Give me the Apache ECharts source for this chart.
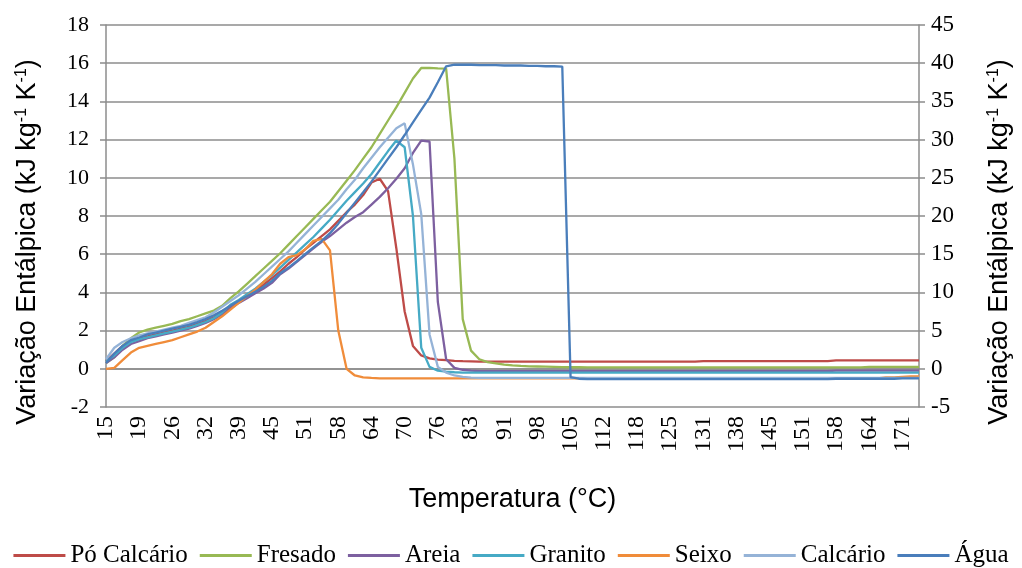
<!DOCTYPE html>
<html>
<head>
<meta charset="utf-8">
<script src="https://cdn.jsdelivr.net/npm/echarts@6/dist/echarts.min.js"></script>
<style>
html, body { margin: 0; padding: 0; background: #fff; }
#chart { width: 1022px; height: 568px; }
</style>
</head>
<body>
<div id="chart"></div>
<script>
// temperatura (°C) de cada leitura; rotulo mostrado a cada 4 leituras
var temperaturas = [
    15, 16, 17, 18, 19, 21, 23, 24, 26, 27, 29, 30, 32, 34, 35, 37,
    39, 40, 42, 43, 45, 46, 48, 49, 51, 53, 54, 56, 58, 59, 61, 62,
    64, 65, 67, 68, 70, 71, 73, 74, 76, 78, 79, 81, 83, 85, 87, 89,
    91, 93, 94, 96, 98, 100, 101, 103, 105, 107, 108, 110, 112, 113, 115, 116,
    118, 120, 121, 123, 125, 126, 128, 129, 131, 133, 134, 136, 138, 140, 141, 143,
    145, 146, 148, 149, 151, 153, 154, 156, 158, 159, 161, 162, 164, 165, 167, 168,
    171, 173, 175
];

// eixo esquerdo (kJ kg-1 K-1)
var poCalcario = [
    0.4, 0.8, 1.2, 1.45, 1.6, 1.7, 1.8, 1.9, 2.0, 2.1, 2.2, 2.35, 2.5, 2.7, 2.95, 3.2,
    3.5, 3.8, 4.1, 4.4, 4.75, 5.1, 5.5, 5.85, 6.25, 6.6, 6.95, 7.3, 7.75, 8.2, 8.6, 9.1,
    9.75, 9.95, 9.3, 6.3, 3.0, 1.2, 0.7, 0.55, 0.48, 0.45, 0.42, 0.4, 0.39, 0.38, 0.38, 0.38,
    0.38, 0.38, 0.38, 0.38, 0.38, 0.38, 0.38, 0.38, 0.38, 0.38, 0.38, 0.38, 0.38, 0.38, 0.38, 0.38,
    0.38, 0.38, 0.38, 0.38, 0.38, 0.38, 0.38, 0.38, 0.4, 0.4, 0.4, 0.4, 0.4, 0.4, 0.4, 0.4,
    0.4, 0.4, 0.4, 0.4, 0.4, 0.4, 0.4, 0.4, 0.44, 0.44, 0.44, 0.44, 0.44, 0.44, 0.44, 0.44,
    0.44, 0.44, 0.44
];
var fresado = [
    0.3, 0.6, 1.2, 1.6, 1.9, 2.05, 2.15, 2.25, 2.35, 2.5, 2.6, 2.75, 2.9, 3.05, 3.3, 3.7,
    4.05, 4.45, 4.85, 5.25, 5.65, 6.05, 6.5, 6.95, 7.4, 7.85, 8.3, 8.75, 9.3, 9.85, 10.4, 11.0,
    11.6, 12.3, 13.0, 13.7, 14.45, 15.2, 15.75, 15.75, 15.73, 15.72, 11.0, 2.6, 0.95, 0.5, 0.35, 0.28,
    0.22, 0.18, 0.15, 0.13, 0.12, 0.11, 0.1, 0.09, 0.08, 0.08, 0.07, 0.07, 0.07, 0.07, 0.07, 0.07,
    0.07, 0.07, 0.07, 0.07, 0.07, 0.07, 0.07, 0.07, 0.07, 0.07, 0.07, 0.07, 0.07, 0.07, 0.07, 0.07,
    0.07, 0.07, 0.07, 0.07, 0.07, 0.07, 0.07, 0.07, 0.07, 0.07, 0.07, 0.07, 0.1, 0.1, 0.1, 0.1,
    0.1, 0.1, 0.1
];
var areia = [
    0.3, 0.6, 1.0, 1.3, 1.45, 1.6, 1.7, 1.8, 1.9, 2.0, 2.1, 2.25, 2.4, 2.6, 2.85, 3.15,
    3.45, 3.7, 3.95, 4.2, 4.5, 4.95, 5.25, 5.6, 5.95, 6.3, 6.65, 6.95, 7.3, 7.65, 7.95, 8.2,
    8.6, 9.0, 9.45, 9.95, 10.5, 11.3, 11.95, 11.9, 3.5, 0.5, 0.05, -0.05, -0.1, -0.12, -0.12, -0.12,
    -0.12, -0.12, -0.12, -0.12, -0.12, -0.12, -0.12, -0.12, -0.12, -0.12, -0.12, -0.12, -0.12, -0.12, -0.12, -0.12,
    -0.12, -0.12, -0.12, -0.12, -0.12, -0.12, -0.12, -0.12, -0.12, -0.12, -0.12, -0.12, -0.12, -0.12, -0.12, -0.12,
    -0.12, -0.12, -0.12, -0.12, -0.12, -0.12, -0.12, -0.12, -0.1, -0.1, -0.1, -0.1, -0.1, -0.1, -0.1, -0.1,
    -0.1, -0.1, -0.1
];
var granito = [
    0.4, 0.7, 1.1, 1.4, 1.55, 1.65, 1.75, 1.85, 1.95, 2.05, 2.15, 2.3, 2.45, 2.65, 2.95, 3.35,
    3.6, 3.9, 4.2, 4.55, 4.9, 5.3, 5.7, 6.1, 6.5, 6.9, 7.35, 7.8, 8.3, 8.8, 9.25, 9.7,
    10.2, 10.8, 11.4, 11.95, 11.6, 8.0, 1.1, 0.1, -0.1, -0.15, -0.18, -0.2, -0.2, -0.2, -0.2, -0.2,
    -0.2, -0.2, -0.2, -0.2, -0.2, -0.2, -0.2, -0.2, -0.2, -0.2, -0.2, -0.2, -0.2, -0.2, -0.2, -0.2,
    -0.2, -0.2, -0.2, -0.2, -0.2, -0.2, -0.2, -0.2, -0.2, -0.2, -0.2, -0.2, -0.2, -0.2, -0.2, -0.2,
    -0.2, -0.2, -0.2, -0.2, -0.2, -0.2, -0.2, -0.2, -0.2, -0.2, -0.2, -0.2, -0.2, -0.2, -0.2, -0.2,
    -0.2, -0.2, -0.2
];
var seixo = [
    0.0, 0.05, 0.45, 0.85, 1.1, 1.2, 1.3, 1.4, 1.5, 1.65, 1.8, 1.95, 2.15, 2.45, 2.75, 3.1,
    3.45, 3.8, 4.15, 4.55, 4.95, 5.5, 5.85, 5.95, 6.25, 6.7, 6.8, 6.2, 2.0, 0.0, -0.35, -0.45,
    -0.48, -0.5, -0.5, -0.5, -0.5, -0.5, -0.5, -0.5, -0.5, -0.5, -0.5, -0.5, -0.5, -0.5, -0.5, -0.5,
    -0.5, -0.5, -0.5, -0.5, -0.5, -0.5, -0.5, -0.5, -0.5, -0.5, -0.5, -0.5, -0.5, -0.5, -0.5, -0.5,
    -0.5, -0.5, -0.5, -0.5, -0.5, -0.5, -0.5, -0.5, -0.5, -0.5, -0.5, -0.5, -0.5, -0.5, -0.5, -0.5,
    -0.5, -0.5, -0.5, -0.5, -0.5, -0.5, -0.5, -0.5, -0.5, -0.5, -0.5, -0.5, -0.5, -0.5, -0.45, -0.45,
    -0.42, -0.4, -0.4
];
var calcario = [
    0.5, 1.1, 1.4, 1.6, 1.75, 1.85, 1.95, 2.05, 2.15, 2.25, 2.4, 2.55, 2.7, 2.95, 3.25, 3.55,
    3.85, 4.2, 4.55, 4.95, 5.35, 5.75, 6.15, 6.6, 7.05, 7.5, 7.95, 8.4, 8.85, 9.4, 9.9, 10.5,
    11.05, 11.6, 12.1, 12.6, 12.85, 10.7, 8.1, 1.8, 0.1, -0.2, -0.35, -0.42, -0.46, -0.48, -0.48, -0.48,
    -0.48, -0.48, -0.48, -0.48, -0.48, -0.48, -0.48, -0.48, -0.48, -0.48, -0.48, -0.48, -0.48, -0.48, -0.48, -0.48,
    -0.48, -0.48, -0.48, -0.48, -0.48, -0.48, -0.48, -0.48, -0.48, -0.48, -0.48, -0.48, -0.48, -0.48, -0.48, -0.48,
    -0.48, -0.48, -0.48, -0.48, -0.48, -0.48, -0.48, -0.48, -0.48, -0.48, -0.48, -0.48, -0.48, -0.48, -0.48, -0.48,
    -0.48, -0.48, -0.48
];
// eixo direito
var agua = [
    0.75, 2.0, 3.0, 3.75, 4.1, 4.5, 4.75, 5.0, 5.25, 5.5, 5.75, 6.1, 6.5, 7.0, 7.6, 8.25,
    8.9, 9.5, 10.1, 10.75, 11.5, 12.5, 13.25, 14.1, 15.0, 15.9, 16.75, 17.75, 19.0, 20.4, 21.75, 23.1,
    24.5, 26.0, 27.5, 29.0, 30.6, 32.25, 33.9, 35.5, 37.5, 39.6, 39.8, 39.8, 39.8, 39.75, 39.75, 39.75,
    39.7, 39.7, 39.7, 39.65, 39.65, 39.6, 39.6, 39.55, -1.1, -1.3, -1.35, -1.35, -1.35, -1.35, -1.35, -1.35,
    -1.35, -1.35, -1.35, -1.35, -1.35, -1.35, -1.35, -1.35, -1.35, -1.35, -1.35, -1.35, -1.35, -1.35, -1.35, -1.35,
    -1.35, -1.35, -1.35, -1.35, -1.35, -1.35, -1.35, -1.35, -1.3, -1.3, -1.3, -1.3, -1.3, -1.3, -1.3, -1.3,
    -1.25, -1.25, -1.25
];

var nomes = ['Pó Calcário', 'Fresado', 'Areia', 'Granito', 'Seixo', 'Calcário', 'Água'];
var cores = ['#BE4B48', '#98B954', '#7D60A0', '#46AAC5', '#F08C3A', '#95B3D7', '#4A7EBB'];
var valores = [poCalcario, fresado, areia, granito, seixo, calcario, agua];

var chart = echarts.init(document.getElementById('chart'));

var tituloEixo = {
    fontFamily: 'Liberation Sans',
    fontSize: 27,
    color: '#000',
    padding: [0, 52, 0, 0],
    rich: {
        sup: { fontFamily: 'Liberation Sans', fontSize: 16, color: '#000', verticalAlign: 'top', padding: [0, 0, 11, 0] }
    }
};
var nomeEixo = 'Variação Entálpica (kJ kg{sup|-1} K{sup|-1})';

var series = [];
for (var i = 0; i < nomes.length; i++) {
    series.push({
        name: nomes[i],
        type: 'line',
        yAxisIndex: i === 6 ? 1 : 0,
        data: valores[i],
        showSymbol: false,
        symbol: 'none',
        smooth: false,
        animation: false,
        lineStyle: { color: cores[i], width: 2.3 },
        itemStyle: { color: cores[i] }
    });
}

var option = {
    backgroundColor: '#fff',
    animation: false,
    grid: { left: 106, right: 103, top: 25, bottom: 161 },
    legend: {
        bottom: -5,
        left: 'center',
        icon: 'rect',
        itemWidth: 52,
        itemHeight: 3,
        itemGap: 12,
        textStyle: { fontFamily: 'Liberation Serif', fontSize: 25, color: '#000' },
        data: nomes
    },
    xAxis: {
        type: 'category',
        data: temperaturas,
        boundaryGap: false,
        name: 'Temperatura (°C)',
        nameLocation: 'middle',
        nameGap: 79,
        nameTextStyle: { fontFamily: 'Liberation Sans', fontSize: 27, color: '#000' },
        axisLine: { lineStyle: { color: '#8c8c8c', width: 1.5 } },
        axisTick: { show: false },
        axisLabel: {
            interval: 3,
            rotate: 90,
            fontFamily: 'Liberation Serif',
            fontSize: 24,
            color: '#000',
            margin: 9
        },
        splitLine: { show: false }
    },
    yAxis: [
        {
            type: 'value',
            min: -2,
            max: 18,
            interval: 2,
            name: nomeEixo,
            nameLocation: 'middle',
            nameRotate: 90,
            nameGap: 65,
            nameTextStyle: tituloEixo,
            axisLine: { show: true, lineStyle: { color: '#8c8c8c', width: 1.5 } },
            axisTick: { show: true, length: 6, lineStyle: { color: '#8c8c8c', width: 1.5 } },
            axisLabel: { fontFamily: 'Liberation Serif', fontSize: 22, color: '#000', margin: 17 },
            splitLine: { lineStyle: { color: '#8c8c8c', width: 1.5 } }
        },
        {
            type: 'value',
            min: -5,
            max: 45,
            interval: 5,
            name: nomeEixo,
            nameLocation: 'middle',
            nameRotate: 90,
            nameGap: 67,
            nameTextStyle: tituloEixo,
            axisLine: { show: true, lineStyle: { color: '#8c8c8c', width: 1.5 } },
            axisTick: { show: true, length: 6, lineStyle: { color: '#8c8c8c', width: 1.5 } },
            axisLabel: { fontFamily: 'Liberation Serif', fontSize: 23, color: '#000', margin: 12 },
            splitLine: { show: false }
        }
    ],
    series: series
};

chart.setOption(option);
</script>
</body>
</html>
